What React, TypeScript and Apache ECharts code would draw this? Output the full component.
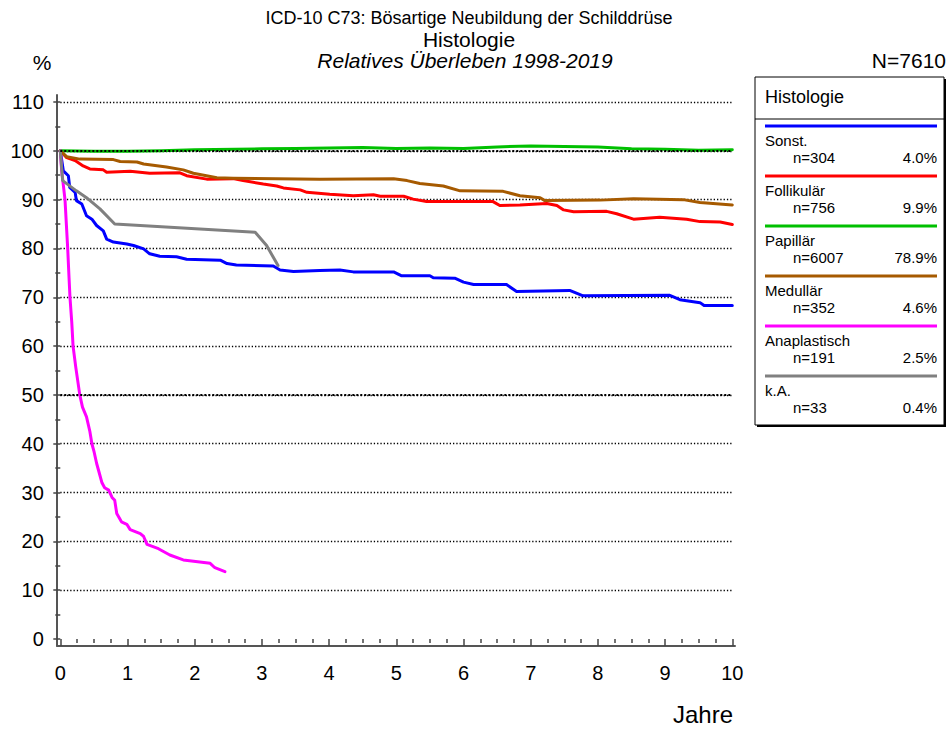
import React, { useEffect, useRef } from "react";
import * as echarts from "echarts";

// ---- texts ----
const titleLine1 = "ICD-10 C73: Bösartige Neubildung der Schilddrüse";
const titleLine2 = "Histologie";
const titleLine3 = "Relatives Überleben 1998-2019";
const totalLabel = "N=7610";
const yUnit = "%";
const xName = "Jahre";
const legendTitle = "Histologie";

// ---- groups ----
const groupNames = ["Sonst.", "Follikulär", "Papillär", "Medullär", "Anaplastisch", "k.A."];
const groupCounts = [304, 756, 6007, 352, 191, 33];
const groupPercents = ["4.0%", "9.9%", "78.9%", "4.6%", "2.5%", "0.4%"];
const groupColors = ["#0000ff", "#ff0000", "#00c000", "#a65a00", "#ff00ff", "#808080"];

// ---- axes ----
const xMin = 0, xMax = 10, xStep = 1;
const yMin = 0, yMax = 110, yStep = 10;
const boldGridValues = [50, 100];

// ---- survival curves [years, %] ----
const sonst = [
  [0, 100], [0.045, 95.9], [0.12, 94.9], [0.14, 92.5], [0.22, 91.5], [0.24, 89.8], [0.32, 89.1],
  [0.39, 86.7], [0.47, 86.0], [0.54, 84.7], [0.64, 83.6], [0.69, 81.9], [0.79, 81.3], [0.99, 80.9],
  [1.09, 80.6], [1.24, 79.9], [1.33, 78.9], [1.48, 78.4], [1.73, 78.3], [1.88, 77.8], [2.38, 77.6],
  [2.48, 76.9], [2.62, 76.6], [3.17, 76.4], [3.27, 75.6], [3.47, 75.3], [3.86, 75.5], [4.16, 75.6],
  [4.36, 75.2], [4.96, 75.2], [5.08, 74.4], [5.5, 74.4], [5.55, 74.0], [5.87, 73.9], [6.0, 73.1],
  [6.15, 72.6], [6.64, 72.6], [6.79, 71.2], [7.58, 71.4], [7.78, 70.3], [9.07, 70.4], [9.22, 69.5],
  [9.52, 68.9], [9.58, 68.3], [10.0, 68.3],
];
const follikular = [
  [0, 100], [0.095, 98.6], [0.22, 98.0], [0.34, 96.9], [0.44, 96.3], [0.64, 96.1], [0.69, 95.6],
  [1.04, 95.8], [1.33, 95.4], [1.78, 95.5], [1.88, 94.9], [2.18, 94.2], [2.57, 94.3], [2.72, 93.9],
  [3.02, 93.2], [3.22, 92.8], [3.32, 92.4], [3.57, 92.0], [3.67, 91.5], [4.01, 91.1], [4.36, 90.8],
  [4.66, 91.0], [4.76, 90.7], [5.11, 90.7], [5.25, 90.1], [5.45, 89.6], [5.95, 89.6], [6.44, 89.6],
  [6.54, 88.8], [6.84, 88.9], [7.24, 89.2], [7.39, 88.8], [7.49, 87.9], [7.64, 87.5], [8.13, 87.6],
  [8.28, 87.1], [8.53, 86.0], [8.92, 86.4], [9.32, 86.0], [9.52, 85.5], [9.82, 85.4], [10.0, 84.9],
];
const papillar = [
  [0, 100], [0.5, 99.9], [1, 99.9], [1.5, 100.0], [2, 100.2], [3, 100.4], [3.5, 100.5], [4, 100.6],
  [4.5, 100.7], [5, 100.5], [5.5, 100.6], [6, 100.5], [6.5, 100.8], [7, 101.0], [7.5, 100.9],
  [8, 100.8], [8.5, 100.4], [9, 100.3], [9.5, 100.1], [10, 100.2],
];
const medullar = [
  [0, 100], [0.095, 98.8], [0.29, 98.3], [0.79, 98.2], [0.89, 97.8], [1.14, 97.7], [1.24, 97.3],
  [1.58, 96.7], [1.83, 96.1], [1.98, 95.4], [2.33, 94.5], [2.57, 94.4], [3.86, 94.2], [4.96, 94.3],
  [5.16, 93.9], [5.35, 93.3], [5.7, 92.8], [5.95, 91.8], [6.59, 91.7], [6.84, 90.8], [7.14, 90.4],
  [7.21, 89.8], [8.03, 89.9], [8.53, 90.2], [9.27, 90.0], [9.52, 89.4], [10.0, 88.9],
];
const anaplastisch = [
  [0, 100], [0.02, 96], [0.045, 93], [0.07, 90], [0.09, 85], [0.11, 80], [0.13, 74], [0.144, 70],
  [0.17, 65], [0.19, 60], [0.23, 55.7], [0.29, 50], [0.33, 47.5], [0.39, 45.5], [0.44, 42.5],
  [0.47, 40], [0.5, 38.5], [0.54, 36], [0.58, 34], [0.62, 32], [0.66, 31], [0.72, 30.5], [0.77, 29],
  [0.81, 28.4], [0.84, 25.7], [0.91, 24], [0.99, 23.5], [1.04, 22.4], [1.19, 21.6], [1.24, 21],
  [1.29, 19.4], [1.46, 18.5], [1.63, 17.2], [1.83, 16.2], [2.23, 15.5], [2.3, 14.6], [2.45, 13.8],
];
const keineAngabe = [
  [0, 100], [0.035, 93.9], [0.24, 91.8], [0.39, 90.4], [0.59, 88.1], [0.81, 85.0], [2.9, 83.3],
  [3.07, 80.6], [3.24, 76.5],
];
const curves = [sonst, follikular, papillar, medullar, anaplastisch, keineAngabe];

const FONT = '"Liberation Sans", Arial, sans-serif';

export default function App() {
  const ref = useRef<HTMLDivElement>(null);

  useEffect(() => {
    document.body.style.margin = "0";
    const chart = echarts.init(ref.current!, undefined, { renderer: "svg" });

    const txt = (text: string, x: number, y: number, size: number, align: string, italic = false) => ({
      type: "text", x, y,
      style: { text, font: `${italic ? "italic " : ""}${size}px ${FONT}`, fill: "#000", textAlign: align, textVerticalAlign: "middle", align, verticalAlign: "middle" },
    });

    // legend box
    const boxL = 755, boxT = 77, boxR = 944, boxB = 425;
    const legendEls: any[] = [
      { type: "rect", shape: { x: boxL + 2, y: boxT + 2, width: boxR - boxL, height: boxB - boxT }, style: { fill: "#000" } },
      { type: "rect", shape: { x: boxL, y: boxT, width: boxR - boxL, height: boxB - boxT }, style: { fill: "#fff", stroke: "#000", lineWidth: 1 } },
      { type: "line", shape: { x1: boxL, y1: 119, x2: boxR, y2: 119 }, style: { stroke: "#000", lineWidth: 1 } },
      txt(legendTitle, 765, 97, 18, "left"),
    ];
    groupNames.forEach((name, i) => {
      const y0 = 126 + i * 50;
      legendEls.push(
        { type: "line", shape: { x1: 765, y1: y0, x2: 937, y2: y0 }, style: { stroke: groupColors[i], lineWidth: 3 } },
        txt(name, 765, y0 + 14, 15, "left"),
        txt(`n=${groupCounts[i]}`, 793, y0 + 31, 15, "left"),
        txt(groupPercents[i], 937, y0 + 31, 15, "right"),
      );
    });

    const option: any = {
      animation: false,
      backgroundColor: "#fff",
      grid: [
        { left: 60.3, right: 215.7, top: 102, bottom: 90 },
        { left: 57, right: 213, top: 95, bottom: 83.3 },
      ],
      xAxis: [
        {
          type: "value", gridIndex: 0, min: xMin, max: xMax, interval: xStep, offset: 6.7,
          axisLine: { show: false },
          axisTick: { show: true, length: 7, lineStyle: { color: "#444", width: 1.5 } },
          minorTick: { show: true, splitNumber: 4, length: 4, lineStyle: { color: "#444", width: 1.5 } },
          axisLabel: { color: "#000", fontSize: 20, fontFamily: FONT, margin: 17 },
          splitLine: { show: false },
        },
        {
          type: "value", gridIndex: 1, min: 0, max: 1,
          axisLine: { show: true, lineStyle: { color: "#555", width: 2 } },
          axisTick: { show: false }, axisLabel: { show: false }, splitLine: { show: false },
        },
      ],
      yAxis: [
        {
          type: "value", gridIndex: 0, min: yMin, max: yMax, interval: yStep, offset: 3.5,
          axisLine: { show: false },
          axisTick: { show: true, length: 7, lineStyle: { color: "#444", width: 1.5 } },
          minorTick: { show: true, splitNumber: 2, length: 5, lineStyle: { color: "#444", width: 1.5 } },
          axisLabel: { color: "#000", fontSize: 20, fontFamily: FONT, margin: 13 },
          splitLine: { show: true, showMinLine: false, lineStyle: { color: "#000", width: 1.3, type: [1.3, 2] } },
        },
        {
          type: "value", gridIndex: 1, min: 0, max: 1,
          axisLine: { show: true, lineStyle: { color: "#555", width: 2 } },
          axisTick: { show: false }, axisLabel: { show: false }, splitLine: { show: false },
        },
      ],
      series: [
        {
          type: "line", xAxisIndex: 0, yAxisIndex: 0, z: 1, data: [[xMin, boldGridValues[0]]],
          symbol: "none", lineStyle: { opacity: 0 }, silent: true,
          markLine: {
            silent: true, symbol: "none", label: { show: false },
            lineStyle: { color: "#000", width: 2.2, type: [2, 2] },
            data: boldGridValues.map((v) => ({ yAxis: v })),
          },
        },
        ...curves.map((c, i) => ({
          type: "line", name: groupNames[i], xAxisIndex: 0, yAxisIndex: 0, z: 3,
          data: c, symbol: "none", showSymbol: false,
          lineStyle: { color: groupColors[i], width: 3, join: "round", cap: "round" },
          itemStyle: { color: groupColors[i] },
        })),
      ],
      graphic: [
        txt(titleLine1, 469, 18, 18, "center"),
        txt(titleLine2, 469, 39, 21, "center"),
        txt(titleLine3, 465, 60, 21, "center", true),
        txt(yUnit, 42, 62, 21, "center"),
        txt(totalLabel, 946, 60, 21, "right"),
        txt(xName, 733, 714, 24, "right"),
        ...legendEls,
      ],
    };
    chart.setOption(option);
    return () => chart.dispose();
  }, []);

  return <div ref={ref} style={{ position: "absolute", left: 0, top: 0, width: 948, height: 729 }} />;
}
